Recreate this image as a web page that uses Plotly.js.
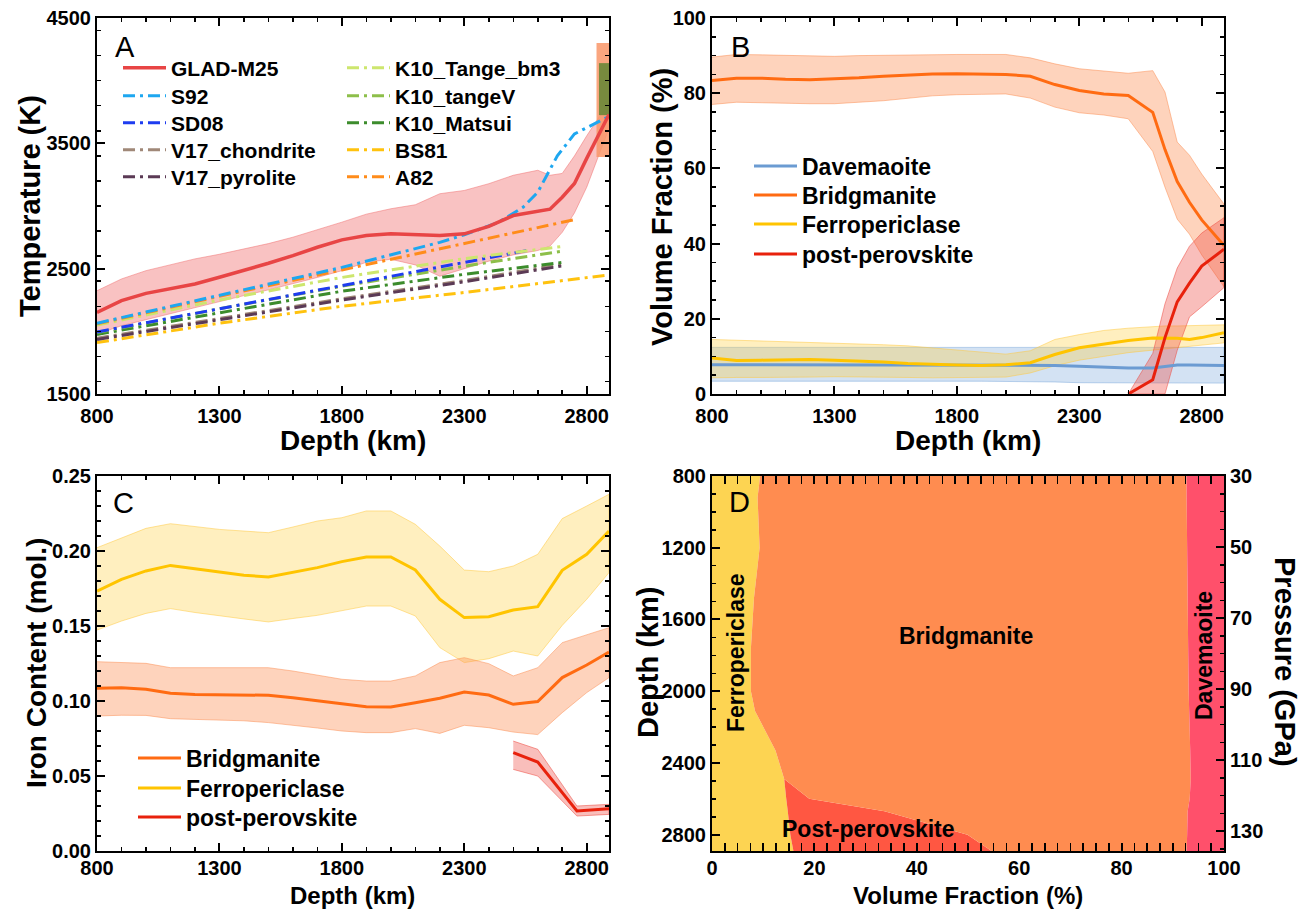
<!DOCTYPE html>
<html><head><meta charset="utf-8">
<script src="https://cdn.plot.ly/plotly-3.0.1.min.js"></script>
<style>html,body{margin:0;padding:0;background:#fff}</style>
</head><body>
<div id="chart" style="width:1309px;height:911px"></div>
<script>
// ---------- Panel A : temperature profiles ----------
const gladDepth = [800,900,1000,1100,1200,1300,1400,1500,1600,1700,1800,1900,2000,2100,2200,2300,2400,2500,2600,2650,2700,2750,2800,2891];
const gladT     = [2150,2245,2303,2338,2378,2431,2484,2543,2604,2671,2730,2765,2778,2773,2765,2778,2837,2924,2955,2975,3070,3180,3380,3730];
const gladHi    = [2324,2418,2484,2530,2578,2615,2658,2700,2751,2810,2871,2935,2978,3010,3098,3124,3178,3245,3285,3245,3260,3400,3560,3830];
const gladLo    = [1978,2045,2098,2145,2191,2238,2285,2331,2378,2430,2484,2551,2575,2530,2440,2500,2560,2610,2645,2680,2790,2945,3150,3620];

const s92Depth = [800,1300,1800,2200,2300,2440,2540,2600,2680,2750,2891];
const s92T     = [2065,2290,2510,2710,2770,2870,2990,3110,3400,3575,3715];
const sd08Depth = [800,1300,1800,2300,2570];
const sd08T     = [1995,2180,2365,2545,2650];
const v17cDepth = [800,1300,1800,2300,2700];
const v17cT     = [1945,2105,2260,2405,2535];
const v17pDepth = [800,1300,1800,2300,2700];
const v17pT     = [1935,2095,2250,2395,2522];
const k10bDepth = [800,1300,1800,2300,2710];
const k10bT     = [2050,2250,2430,2580,2680];
const k10vDepth = [800,1300,1800,2300,2700];
const k10vT     = [1990,2180,2360,2520,2640];
const k10mDepth = [800,1300,1800,2300,2710];
const k10mT     = [1975,2150,2320,2455,2552];
const bs81Depth = [800,1300,1800,2300,2891];
const bs81T     = [1910,2065,2200,2310,2450];
const a82Depth  = [800,1300,1800,2300,2760];
const a82T      = [2060,2280,2490,2700,2895];

const cmbDepth  = [2840,2891];
const cmbT      = [3390,4300];
const cmbDepth2 = [2850,2891];
const cmbT2     = [3725,4140];

// ---------- Panel B : volume fractions ----------
const bDepth = [800,900,1000,1100,1200,1300,1400,1500,1600,1700,1800,1900,2000,2100,2200,2300,2400,2500,2600,2650,2700,2750,2800,2891];
const bdgVF   = [83.4,84.0,84.0,83.7,83.6,83.8,84.1,84.5,84.8,85.1,85.2,85.1,85.0,84.5,82.3,80.7,79.8,79.4,74.9,65.0,56.5,51.0,46.3,39.5];
const bdgVFHi = [89.6,90.3,90.2,90.0,89.9,89.8,90.0,90.1,90.2,90.3,90.3,90.3,90.3,89.4,87.8,86.5,85.9,85.3,86.0,80.3,67.0,63.5,58.5,50.5];
const bdgVFLo = [77.0,77.6,77.5,77.3,77.2,77.2,77.6,78.0,78.6,79.3,79.6,79.7,79.8,78.7,76.3,74.8,74.2,73.2,64.5,55.0,46.5,42.5,37.0,28.5];
const fpVF    = [9.6,8.9,9.0,9.1,9.2,9.0,8.8,8.5,8.1,7.8,7.7,7.6,7.8,8.3,10.5,12.3,13.3,14.2,14.9,14.9,14.8,14.5,15.0,16.3];
const fpVFHi  = [14.5,14.3,14.2,14.0,13.8,13.6,13.4,13.1,12.8,12.3,11.8,11.2,10.6,11.5,14.5,15.8,16.9,17.5,18.0,18.1,18.1,18.2,18.2,18.4];
const fpVFLo  = [4.3,4.4,4.4,4.4,4.5,4.6,4.6,4.5,4.4,4.3,4.3,4.4,4.5,5.6,7.5,9.0,10.0,11.0,11.8,12.0,12.3,12.6,13.0,13.6];
const davVF   = [7.8,7.8,7.8,7.8,7.8,7.8,7.8,7.8,7.8,7.8,7.8,7.8,7.8,7.7,7.6,7.4,7.1,6.9,6.9,7.3,7.7,7.7,7.6,7.6];
const davVFHi = [12.4,12.4,12.4,12.4,12.4,12.4,12.4,12.4,12.4,12.4,12.4,12.4,12.4,12.4,12.4,12.4,12.4,12.4,12.4,12.4,12.4,12.4,12.4,12.4];
const davVFLo = [3.4,3.4,3.4,3.4,3.4,3.4,3.4,3.4,3.4,3.4,3.4,3.4,3.4,3.3,3.2,3.0,2.9,2.9,2.9,2.9,2.9,2.9,2.9,2.9];
const ppvDepthB = [2500,2600,2650,2700,2750,2800,2891];
const ppvVF     = [0,3.8,15.0,24.5,29.5,34.0,38.5];
const ppvVFHi   = [0,10.8,24.0,33.5,39.3,42.8,46.9];
const ppvVFLo   = [0,0,0,11.6,20.5,23.2,28.3];

// ---------- Panel C : iron content ----------
const cDepth = [800,900,1000,1100,1200,1300,1400,1500,1600,1700,1800,1900,2000,2100,2200,2300,2400,2500,2600,2700,2800,2891];
const bdgFe   = [0.1085,0.1089,0.1078,0.1051,0.1044,0.1042,0.1040,0.1038,0.1022,0.1000,0.0982,0.0962,0.0960,0.0989,0.1018,0.1060,0.1040,0.0978,0.0996,0.1156,0.1240,0.1327];
const bdgFeHi = [0.1262,0.1258,0.1251,0.1222,0.1222,0.1222,0.1222,0.1222,0.1200,0.1170,0.1145,0.1133,0.1133,0.1167,0.1256,0.1289,0.1249,0.1167,0.1222,0.1389,0.1444,0.1489];
const bdgFeLo = [0.0900,0.0905,0.0904,0.0882,0.0878,0.0873,0.0868,0.0856,0.0840,0.0820,0.0800,0.0789,0.0789,0.0816,0.0784,0.0838,0.0822,0.0793,0.0776,0.0922,0.1056,0.1156];
const fpFe    = [0.1733,0.1811,0.1867,0.1904,0.1882,0.1860,0.1838,0.1827,0.1856,0.1889,0.1929,0.1960,0.1960,0.1873,0.1678,0.1556,0.1562,0.1607,0.1629,0.1871,0.1978,0.2133];
const fpFeHi  = [0.2022,0.2089,0.2151,0.2182,0.2165,0.2144,0.2133,0.2122,0.2160,0.2200,0.2222,0.2267,0.2267,0.2178,0.2033,0.1873,0.1862,0.1900,0.1978,0.2216,0.2300,0.2378];
const fpFeLo  = [0.1473,0.1533,0.1584,0.1616,0.1590,0.1567,0.1547,0.1527,0.1550,0.1571,0.1600,0.1633,0.1633,0.1567,0.1356,0.1256,0.1282,0.1333,0.1300,0.1504,0.1678,0.1856];
const ppvDepthC = [2500,2600,2760,2891];
const ppvFe     = [0.0656,0.0593,0.0267,0.0282];
const ppvFeHi   = [0.0733,0.0678,0.0300,0.0311];
const ppvFeLo   = [0.0544,0.0500,0.0233,0.0244];

// ---------- Panel D : stacked volume fractions ----------
const dDepth = [800,920,1200,1480,1760,2000,2110,2220,2330,2490,2600,2670,2800,2891];
const dFp  = [9.4,8.9,9.3,8.2,7.6,7.6,8.4,10.4,12.4,14.1,14.5,14.8,15.3,15.9];
const dPpv = [0,0,0,0,0,0,0,0,0,0,4.5,18.9,34.6,38.7];
const dBdg = [83.3,83.8,83.5,84.7,85.4,85.5,84.8,82.9,81.0,79.4,74.3,59.2,42.9,38.1];
const dDav = [7.3,7.3,7.2,7.1,7.0,6.9,6.8,6.7,6.6,6.5,6.7,7.1,7.2,7.3];
const pressureRange = [135.6, 30];

// ---------- helpers ----------
const W = 1309, H = 911;
const FONT = 'Liberation Sans, Arial, Helvetica, sans-serif';
const px = v => v / W, py = v => 1 - v / H;
const DD = '12px,5px,3px,5px';

function band(x, lo, hi, fill, edge, xa, ya) {
  return {x: x.concat(x.slice().reverse()), y: hi.concat(lo.slice().reverse()),
    mode: 'lines', fill: 'toself', fillcolor: fill, line: {color: edge, width: 1},
    hoverinfo: 'skip', showlegend: false, xaxis: xa, yaxis: ya};
}
function rect(xr, yr, fill, xa, ya) {
  return {x: [xr[0], xr[1], xr[1], xr[0], xr[0]], y: [yr[0], yr[0], yr[1], yr[1], yr[0]],
    mode: 'lines', fill: 'toself', fillcolor: fill, line: {width: 0},
    hoverinfo: 'skip', showlegend: false, xaxis: xa, yaxis: ya};
}

// one legend per entry so that spacing matches the reference
const legends = {};
let legCount = 0;
const legFont = s => ({family: FONT, size: s, color: '#000', weight: 'bold'});
function newLegend(textX, yc, size) {
  legCount++;
  const id = legCount === 1 ? 'legend' : 'legend' + legCount;
  legends[id] = {x: px(textX - 54), y: py(yc), xanchor: 'left', yanchor: 'middle',
    bgcolor: 'rgba(0,0,0,0)', font: legFont(size), itemwidth: 43, borderwidth: 0};
  return id;
}
function ln(x, y, name, color, dash, width, xa, ya, leg) {
  const t = {x, y, name, mode: 'lines', line: {color, width, dash}, xaxis: xa, yaxis: ya, hoverinfo: 'skip'};
  if (leg) { t.legend = newLegend(leg[0], leg[1], leg[2]); t.showlegend = true; } else t.showlegend = false;
  return t;
}

const traces = [
  // Panel A
  band(gladDepth, gladLo, gladHi, 'rgba(240,110,110,0.42)', 'rgba(240,110,110,0.5)', 'x', 'y'),
  rect(cmbDepth, cmbT, 'rgba(249,150,105,0.85)', 'x', 'y'),
  rect(cmbDepth2, cmbT2, 'rgba(105,135,55,0.9)', 'x', 'y'),
  ln(bs81Depth, bs81T, 'BS81', '#FFC20E', DD, 3, 'x', 'y', [396, 150, 21]),
  ln(v17cDepth, v17cT, 'V17_chondrite', '#A08878', DD, 3, 'x', 'y', [172, 150, 21]),
  ln(v17pDepth, v17pT, 'V17_pyrolite', '#5B3A55', DD, 3, 'x', 'y', [172, 177, 21]),
  ln(k10mDepth, k10mT, 'K10_Matsui', '#3C8C2C', DD, 3, 'x', 'y', [396, 123, 21]),
  ln(k10vDepth, k10vT, 'K10_tangeV', '#8DBF4A', DD, 3, 'x', 'y', [396, 96, 21]),
  ln(sd08Depth, sd08T, 'SD08', '#1E3CF0', DD, 3, 'x', 'y', [172, 123, 21]),
  ln(k10bDepth, k10bT, 'K10_Tange_bm3', '#CDE66E', DD, 3, 'x', 'y', [396, 68, 21]),
  ln(a82Depth, a82T, 'A82', '#FF8C1A', DD, 3, 'x', 'y', [396, 177, 21]),
  ln(s92Depth, s92T, 'S92', '#1EA7F0', DD, 3, 'x', 'y', [172, 96, 21]),
  ln(gladDepth, gladT, 'GLAD-M25', '#E84545', 'solid', 3.5, 'x', 'y', [172, 68, 21]),

  // Panel B
  band(bDepth, davVFLo, davVFHi, 'rgba(110,160,215,0.30)', 'rgba(110,160,215,0.45)', 'x2', 'y2'),
  band(bDepth, fpVFLo, fpVFHi, 'rgba(255,205,60,0.33)', 'rgba(255,200,60,0.5)', 'x2', 'y2'),
  band(bDepth, bdgVFLo, bdgVFHi, 'rgba(252,140,80,0.38)', 'rgba(252,140,80,0.5)', 'x2', 'y2'),
  band(ppvDepthB, ppvVFLo, ppvVFHi, 'rgba(238,70,60,0.35)', 'rgba(238,70,60,0.5)', 'x2', 'y2'),
  ln(bDepth, davVF, 'Davemaoite', '#6B9BD2', 'solid', 3, 'x2', 'y2', [803, 166, 23]),
  ln(bDepth, fpVF, 'Ferropericlase', '#FFC400', 'solid', 3, 'x2', 'y2', [803, 224, 23]),
  ln(bDepth, bdgVF, 'Bridgmanite', '#FF6B12', 'solid', 3, 'x2', 'y2', [803, 195, 23]),
  ln(ppvDepthB, ppvVF, 'post-perovskite', '#E8210C', 'solid', 3, 'x2', 'y2', [803, 254, 23]),

  // Panel C
  band(cDepth, fpFeLo, fpFeHi, 'rgba(255,205,60,0.33)', 'rgba(255,200,60,0.5)', 'x3', 'y3'),
  band(cDepth, bdgFeLo, bdgFeHi, 'rgba(252,140,80,0.38)', 'rgba(252,140,80,0.5)', 'x3', 'y3'),
  band(ppvDepthC, ppvFeLo, ppvFeHi, 'rgba(238,70,60,0.35)', 'rgba(238,70,60,0.5)', 'x3', 'y3'),
  ln(cDepth, bdgFe, 'Bridgmanite', '#FF6B12', 'solid', 3, 'x3', 'y3', [187, 758, 23]),
  ln(cDepth, fpFe, 'Ferropericlase', '#FFC400', 'solid', 3, 'x3', 'y3', [187, 788, 23]),
  ln(ppvDepthC, ppvFe, 'post-perovskite', '#E8210C', 'solid', 3, 'x3', 'y3', [187, 817, 23]),
];

// Panel D stacked areas
[[dFp, '#FDD452'], [dPpv, '#FF5742'], [dBdg, '#FF8C50'], [dDav, '#FF506B']].forEach(([vals, col]) => {
  traces.push({x: vals, y: dDepth, xaxis: 'x4', yaxis: 'y4', mode: 'none', orientation: 'h',
    stackgroup: 'dstack', fillcolor: col, showlegend: false, hoverinfo: 'skip'});
});
// empty trace registering the pressure axis subplot
traces.push({x: [], y: [], xaxis: 'x4', yaxis: 'y5', mode: 'lines', showlegend: false, hoverinfo: 'skip'});

const tickfont = {family: FONT, size: 20, color: '#000', weight: 'bold'};
function ax(extra, minor) {
  return Object.assign({showline: true, linecolor: '#000', linewidth: 2, ticks: 'inside', ticklen: 8,
    tickwidth: 2, tickcolor: '#000', mirror: 'allticks', showgrid: false, zeroline: false,
    tickfont: tickfont, fixedrange: true, automargin: false,
    minor: {ticks: 'inside', ticklen: 4, tickwidth: 1.5, tickcolor: '#000', dtick: minor, showgrid: false}}, extra);
}
const LX = [px(97), px(609)], RX = [px(712), px(1224)];
const TY = [py(394), py(18)], BY = [py(851), py(476)];
const depthAx = {range: [800, 2891], tick0: 800, dtick: 500, ticklabelstandoff: 3};
const depthAxLow = {range: [800, 2891], tick0: 800, dtick: 500, ticklabelstandoff: -2};

function ann(text, x, y, size, angle, bold, yanchor) {
  return {text, x: px(x), y: py(y), xref: 'paper', yref: 'paper', showarrow: false,
    textangle: angle || 0, xanchor: 'center', yanchor: yanchor || 'middle',
    font: {family: FONT, size, color: '#000', weight: bold === false ? 'normal' : 'bold'}};
}

const layout = Object.assign({
  width: W, height: H, margin: {l: 0, r: 0, t: 0, b: 0},
  paper_bgcolor: '#fff', plot_bgcolor: 'rgba(0,0,0,0)',
  font: {family: FONT, color: '#000'},
  xaxis:  ax(Object.assign({domain: LX, anchor: 'y'}, depthAx), 100),
  yaxis:  ax({domain: TY, anchor: 'x', range: [1500, 4500], dtick: 1000, tick0: 1500}, 200),
  xaxis2: ax(Object.assign({domain: RX, anchor: 'y2'}, depthAx), 100),
  yaxis2: ax({domain: TY, anchor: 'x2', range: [0, 100], dtick: 20, tick0: 0}, 5),
  xaxis3: ax(Object.assign({domain: LX, anchor: 'y3'}, depthAxLow), 100),
  yaxis3: ax({domain: BY, anchor: 'x3', range: [0, 0.25], dtick: 0.05, tick0: 0, tickformat: '.2f'}, 0.01),
  xaxis4: ax({domain: RX, anchor: 'y4', range: [0, 100], dtick: 20, tick0: 0, ticklabelstandoff: -2}, 2.5),
  yaxis4: ax({domain: BY, anchor: 'x4', range: [2891, 800], dtick: 400, tick0: 800, mirror: false}, 100),
  yaxis5: ax({overlaying: 'y4', anchor: 'x4', side: 'right', range: pressureRange, dtick: 20, tick0: 30, mirror: false}, 5),
  showlegend: true,
  annotations: [
    ann('A', 125, 47, 29, 0, false), ann('B', 741, 47, 29, 0, false),
    ann('C', 124, 503, 29, 0, false), ann('D', 739, 502, 29, 0, false),
    ann('Temperature (K)', 30, 206, 29, -90),
    ann('Volume Fraction (%)', 662, 207, 29, -90),
    ann('Iron Content (mol.)', 36, 663, 28, -90),
    ann('Depth (km)', 648, 663, 29, -90),
    ann('Pressure (GPa)', 1285, 662, 29, 90),
    ann('Depth (km)', 353, 441, 28), ann('Depth (km)', 968, 441, 28),
    ann('Depth (km)', 353, 911, 24, 0, true, 'bottom'),
    ann('Volume Fraction (%)', 968, 911, 24, 0, true, 'bottom'),
    ann('Bridgmanite', 966, 636, 23), ann('Post-perovskite', 868, 829, 23),
    ann('Ferropericlase', 736, 653, 23, -90), ann('Davemaoite', 1204, 656, 23, -90)
  ]
}, legends);

Plotly.newPlot('chart', traces, layout, {staticPlot: true, displayModeBar: false});
</script>
</body></html>
